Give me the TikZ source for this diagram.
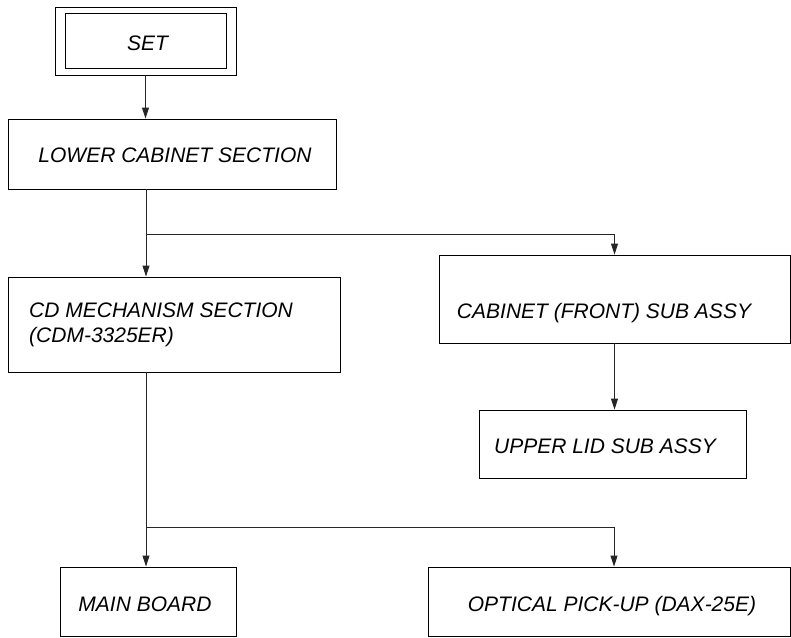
\documentclass[tikz,border=0pt]{standalone}
\usepackage{fontspec}
\setmainfont{Liberation Sans}
\usetikzlibrary{arrows.meta,calc}
\begin{document}
\begin{tikzpicture}[x=1pt,y=1pt,
  box/.style={draw=black,line width=0.9pt,rectangle,inner sep=0pt},
  txt/.style={font=\fontsize{21}{25}\selectfont\itshape,inner sep=0pt,anchor=base},
  txtl/.style={txt,anchor=base west},
  conn/.style={draw=black!85,line width=0.9pt},
  arr/.style={conn,-{Triangle[length=11pt,width=7pt]}}]
\useasboundingbox (0,0) rectangle (791,-637);
% boxes
\node[box,minimum width=181pt,minimum height=68pt] (set) at (145.5,-41) {};
\draw[line width=0.9pt] ([xshift=11pt,yshift=-7pt]set.north west) rectangle ([xshift=-10pt,yshift=7pt]set.south east);
\node[box,minimum width=328pt,minimum height=70pt] (lower) at (172,-154) {};
\node[box,minimum width=332pt,minimum height=95pt] (cd) at (174,-324.5) {};
\node[box,minimum width=351pt,minimum height=88pt] (cab) at (614.5,-299) {};
\node[box,minimum width=267pt,minimum height=68pt] (lid) at (612.5,-444) {};
\node[box,minimum width=176pt,minimum height=69pt] (main) at (148,-601.5) {};
\node[box,minimum width=362pt,minimum height=69pt] (opt) at (609,-601.5) {};
% texts
\node[txt] (settxt) at (147.5,-50) {SET};
\node[txt] (lowertxt) at (175,-162.5) {LOWER CABINET SECTION};
\node[txtl] (cdtxta) at (29,-317.5) {CD MECHANISM SECTION};
\node[txtl] (cdtxtb) at (29,-342.5) {(CDM-3325ER)};
\node[txt] (cabtxt) at (604,-318.5) {CABINET (FRONT) SUB ASSY};
\node[txt] (lidtxt) at (605,-453.5) {UPPER LID SUB ASSY};
\node[txt] (maintxt) at (145,-611.5) {MAIN BOARD};
\node[txt] (opttxt) at (612,-611.5) {OPTICAL PICK-UP (DAX-25E)};
% connectors
\coordinate (j1) at (146,-234);
\coordinate (j1r) at (614.5,-234);
\coordinate (j2) at (146,-527);
\coordinate (j2r) at (614,-527);
\draw[arr] (set.south) -- (set.south |- lower.north);
\draw[conn] (lower.south -| j1) -- (j1) -- (j1r);
\draw[arr] (j1) -- (j1 |- cd.north);
\draw[arr] (j1r) -- (cab.north);
\draw[arr] (cab.south) -- (cab.south |- lid.north);
\draw[conn] (cd.south -| j2) -- (j2) -- (j2r);
\draw[arr] (j2) -- (j2 |- main.north);
\draw[arr] (j2r) -- (j2r |- opt.north);
\end{tikzpicture}
\end{document}
